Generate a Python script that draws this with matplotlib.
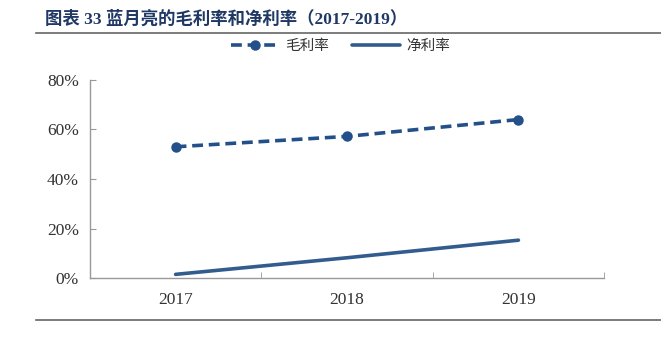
import matplotlib.pyplot as plt
import matplotlib.lines as mlines
import numpy as np

plt.rcParams['font.family'] = ['Liberation Serif', 'Noto Sans CJK SC']

# 数据
years = ['2017', '2018', '2019']
gross_margin = [53.0, 57.2, 64.0]
net_margin = [1.5, 8.2, 15.3]
y_ticks = [0, 20, 40, 60, 80]

line_color = '#24508A'
spine_color = '#999999'

fig = plt.figure(figsize=(6.61, 3.52), dpi=100)
ax = fig.add_axes([0.136, 0.210, 0.778, 0.563])

x = np.arange(len(years)) + 0.5
ax.plot(x, gross_margin, color=line_color, lw=2.6, linestyle=(0, (3, 1.6)),
        marker='o', markersize=6.5, label='毛利率')
ax.plot(x, net_margin, color='#335C8E', lw=2.6, solid_capstyle='round', label='净利率')

ax.set_xlim(0, 3)
ax.set_ylim(0, 80)
ax.set_yticks(y_ticks)
ax.set_yticklabels([f'{v}%' for v in y_ticks], fontsize=12.5, color='#333333')
ax.set_xticks(x)
ax.set_xticklabels(years, fontsize=12.5, color='#333333')
ax.tick_params(axis='x', length=0, pad=10)
ax.set_xticks([1, 2, 3], minor=True)
ax.tick_params(axis='x', which='minor', direction='in', length=4, color=spine_color)
ax.tick_params(axis='y', direction='in', length=4, color=spine_color, pad=8)

for s in ['top', 'right']:
    ax.spines[s].set_visible(False)
for s in ['left', 'bottom']:
    ax.spines[s].set_color(spine_color)
    ax.spines[s].set_linewidth(1.0)

leg = fig.legend(handles=ax.get_lines(), loc='center', bbox_to_anchor=(0.515, 0.868),
                 ncol=2, frameon=False, handlelength=3.3,
                 columnspacing=1.6, handletextpad=0.4,
                 prop={'family': ['Noto Sans CJK SC'], 'size': 10.5})
for t in leg.get_texts():
    t.set_color('#333333')

# 标题
fig.text(0.068, 0.945, '图表 33 蓝月亮的毛利率和净利率（2017-2019）', fontsize=12.5,
         fontweight='bold', color='#1F3864', va='center',
         family=['Liberation Serif', 'Noto Sans CJK SC'])
fig.add_artist(mlines.Line2D([0.054, 1.0], [0.905, 0.905], color='#666666', lw=1.2,
                             transform=fig.transFigure))
fig.add_artist(mlines.Line2D([0.054, 1.0], [0.090, 0.090], color='#666666', lw=1.2,
                             transform=fig.transFigure))

fig.savefig('out.png', dpi=100)
